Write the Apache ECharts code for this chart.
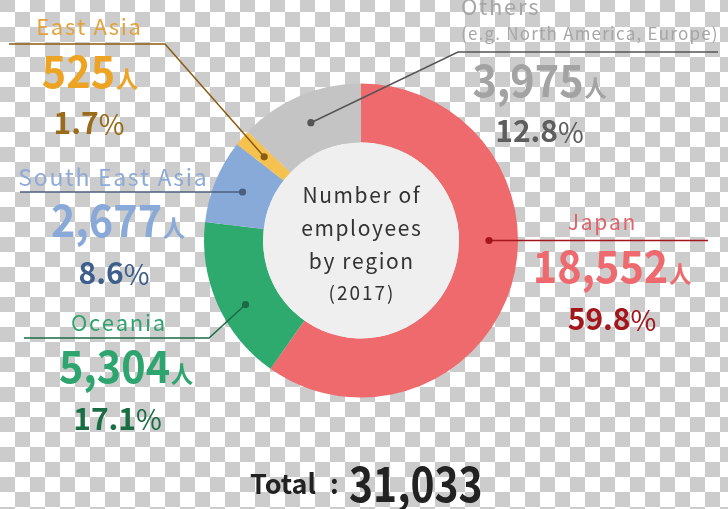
<!DOCTYPE html>
<html>
<head>
<meta charset="utf-8">
<script src="https://cdn.jsdelivr.net/npm/echarts@6/dist/echarts.min.js"></script>
<style>
  html, body { margin: 0; padding: 0; }
  body {
    width: 728px; height: 509px; overflow: hidden;
    background: repeating-conic-gradient(#cccccc 0 25%, #ffffff 0 50%);
    background-size: 30px 30px;
    background-position: 0 12px;
  }
  #chart { width: 728px; height: 509px; }
</style>
</head>
<body>
<div id="chart"></div>
<script>
// ---- data ----
const regions = ['Japan', 'Oceania', 'South East Asia', 'East Asia', 'Others'];
const regionSubtitles = ['', '', '', '', '(e.g. North America, Europe)'];
const employees = [18552, 5304, 2677, 525, 3975];
const unitLabel = '人';
const centerTitle = ['Number of', 'employees', 'by region', '(2017)'];
const totalLabel = 'Total';

// ---- styles ----
const sliceColors = ['#ee6a6c', '#2eaa6e', '#88aad9', '#f5c250', '#c4c4c4'];
const nameColors  = ['#e0646c', '#2fa26e', '#8eaad6', '#e4a23a', '#a6a6a6'];
const numColors   = ['#ee6a6e', '#2ea56e', '#89aad8', '#eda424', '#a3a3a3'];
const pctColors   = ['#a3161c', '#1b6d44', '#3e5f8d', '#9a6b1a', '#5e5e5e'];
const lineColors  = ['#a3161c', '#1d6a46', '#4d5f7c', '#8a5c10', '#555555'];

const FONT = '"Noto Sans CJK JP", "Noto Sans", sans-serif';
const CX = 361, CY = 240.5, R_IN = 98, R_OUT = 157;

// annotation layout (not data)
const layout = [
  { anchorAngle: 90,   anchorR: 128, elbow: null,       end: [708, null], nameX: 601.5, nameY: 222, nameSize: 21, numX: 612, numY: 266, pctX: 612, pctY: 319 },
  { anchorAngle: 241,  anchorR: 132, elbow: [209, 338], end: [24, 338],   nameX: 118, nameY: 323, nameSize: 22, numX: 126, numY: 366, pctX: 117.5, pctY: 418.5 },
  { anchorAngle: null, anchorR: 128, elbow: null,       end: [20, null],  nameX: 112.5, nameY: 177, nameSize: 23, numX: 118, numY: 220, pctX: 114, pctY: 273 },
  { anchorAngle: null, anchorR: 128, elbow: [165, 44],  end: [9, 44],     nameX: 88.5, nameY: 27, nameSize: 22, numX: 90, numY: 71, pctX: 89, pctY: 123 },
  { anchorAngle: null, anchorR: 128, elbow: [458, 52],  end: [718, 52],   nameX: 461, nameY: 7, nameSize: 22, subY: 34, nameAlign: 'left', numX: 539.5, numY: 80, pctX: 539.5, pctY: 131 }
];

const total = employees.reduce((a, b) => a + b, 0);
const fmt = v => v.toLocaleString('en-US');

// letter-spaced text via rich tokens
function spacedText(str, x, y, size, color, ls, align, weight) {
  const text = str.split('').map(c => '{c|' + c + '}').join('');
  const dx = align === 'center' ? ls / 2 : 0;
  return {
    type: 'text', x: x + dx, y: y, z: 10,
    style: {
      text, align: align || 'left', verticalAlign: 'middle',
      rich: { c: { fill: color, font: (weight ? weight + ' ' : '') + size + 'px ' + FONT, padding: [0, ls, 0, 0] } }
    }
  };
}

const chart = echarts.init(document.getElementById('chart'), null, { renderer: 'canvas' });

const elements = [];
// inner disc
elements.push({ type: 'circle', shape: { cx: CX, cy: CY, r: R_IN }, style: { fill: '#efefef' }, z: 5, silent: true });

// center title
const titleY = [195, 228, 261, 293];
const titleSize = [21, 21, 21, 19];
centerTitle.forEach((t, i) => {
  elements.push(spacedText(t, CX, titleY[i], titleSize[i], '#333333', i === 3 ? 2 : 1.6, 'center'));
});

// callouts
let cum = 0;
employees.forEach((v, i) => {
  const frac = v / total;
  const midDeg = (cum + frac / 2) * 360;
  cum += frac;
  const L = layout[i];
  const a = (L.anchorAngle != null ? L.anchorAngle : midDeg) * Math.PI / 180;
  const dx = CX + L.anchorR * Math.sin(a), dy = CY - L.anchorR * Math.cos(a);
  const pts = [[dx, dy]];
  if (L.elbow) pts.push(L.elbow);
  pts.push([L.end[0], L.end[1] == null ? dy : L.end[1]]);
  elements.push({ type: 'polyline', z: 10, shape: { points: pts }, style: { stroke: lineColors[i], lineWidth: 1.5, fill: null } });
  elements.push({ type: 'circle', z: 11, shape: { cx: dx, cy: dy, r: 3.6 }, style: { fill: lineColors[i] } });

  elements.push(spacedText(regions[i], L.nameX, L.nameY, L.nameSize, nameColors[i], 1.7, L.nameAlign || 'center'));
  if (regionSubtitles[i]) {
    elements.push(spacedText(regionSubtitles[i], L.nameX, L.subY, 17, nameColors[i], 1.2, 'left'));
  }
  elements.push({
    type: 'text', x: L.numX, y: L.numY, z: 10, scaleX: 0.92,
    style: {
      text: '{n|' + fmt(v) + '}{u|' + unitLabel + '}',
      align: 'center', verticalAlign: 'middle',
      rich: {
        n: { fill: numColors[i], font: 'bold 45px ' + FONT, verticalAlign: 'bottom' },
        u: { fill: numColors[i], font: 'bold 24px ' + FONT, verticalAlign: 'bottom', padding: [0, 0, 3, 1] }
      }
    }
  });
  elements.push({
    type: 'text', x: L.pctX, y: L.pctY, z: 10,
    style: {
      text: '{p|' + (frac * 100).toFixed(1) + '}{s|%}',
      align: 'center', verticalAlign: 'middle',
      rich: {
        p: { fill: pctColors[i], font: 'bold 30px ' + FONT, verticalAlign: 'bottom' },
        s: { fill: pctColors[i], font: '28px ' + FONT, verticalAlign: 'bottom' }
      }
    }
  });
});

// total
elements.push({ type: 'text', x: 250, y: 484, z: 10, style: { text: totalLabel, fill: '#222222', font: 'bold 27px ' + FONT, align: 'left', verticalAlign: 'middle' } });
elements.push({ type: 'text', x: 330, y: 484, z: 10, style: { text: ':', fill: '#222222', font: 'bold 27px ' + FONT, align: 'left', verticalAlign: 'middle' } });
elements.push({ type: 'text', x: 349, y: 484, z: 10, scaleX: 0.85, style: { text: fmt(total), fill: '#222222', font: 'bold 48px ' + FONT, align: 'left', verticalAlign: 'middle' } });

chart.setOption({
  backgroundColor: 'transparent',
  animation: false,
  series: [{
    type: 'pie',
    center: [CX, CY],
    radius: [R_IN, R_OUT],
    startAngle: 90,
    clockwise: true,
    silent: true,
    label: { show: false },
    labelLine: { show: false },
    itemStyle: { borderWidth: 0 },
    data: regions.map((name, i) => ({ name, value: employees[i], itemStyle: { color: sliceColors[i] } }))
  }],
  graphic: { elements }
});
</script>
</body>
</html>
